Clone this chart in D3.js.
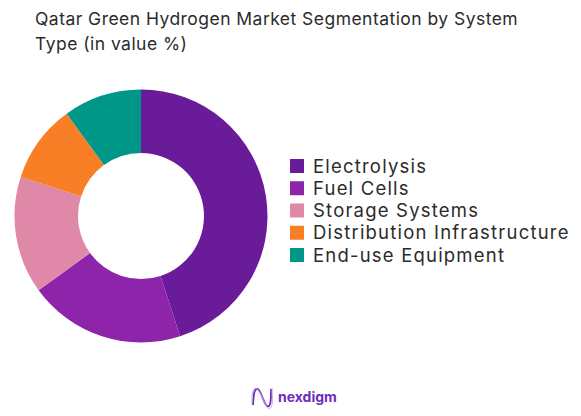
<!DOCTYPE html>
<html lang="en">
<head>
	<meta charset="utf-8">
	<title>Qatar Green Hydrogen Market Segmentation</title>
	<style>
		html, body { margin: 0; padding: 0; background: #fff; }
		svg { display: block; }
		text { font-family: Inter, "Open Sans", sans-serif; fill: #2b2b2b; }
	</style>
</head>
<body>

<script src="https://cdn.jsdelivr.net/npm/d3@7"></script>
<script>
	var categories = ["Electrolysis", "Fuel Cells", "Storage Systems", "Distribution Infrastructure", "End-use Equipment"];
	var values = [45, 20, 15, 10, 10];
	var colors = ["#6a1b9a", "#8e24aa", "#e088a8", "#f97f26", "#009688"];
	var titleLines = ["Qatar Green Hydrogen Market Segmentation by System", "Type (in value %)"];

	var w = 581;
	var h = 416;

	var svg = d3.select("body").append("svg").attr("width", w).attr("height", h);

	// title
	svg.selectAll("text.title")
		.data(titleLines)
		.enter()
		.append("text")
		.attr("class", "title")
		.attr("x", 35)
		.attr("y", function(d, i) { return 25 + i * 25; })
		.attr("font-size", 17.5)
		.attr("letter-spacing", 0.46)
		.text(function(d) { return d; });

	// donut
	var pie = d3.pie().sort(null).value(function(d) { return d; });
	var arc = d3.arc().innerRadius(63).outerRadius(126.5);

	svg.append("g")
		.attr("transform", "translate(141,216)")
		.selectAll("path")
		.data(pie(values))
		.enter()
		.append("path")
		.attr("d", arc)
		.attr("fill", function(d, i) { return colors[i]; });

	// legend
	var legendY = d3.scalePoint().domain(categories).range([166, 255]);

	var legend = svg.selectAll("g.legend")
		.data(categories)
		.enter()
		.append("g")
		.attr("class", "legend")
		.attr("transform", function(d) { return "translate(290," + legendY(d) + ")"; });

	legend.append("rect")
		.attr("x", 0)
		.attr("y", -7)
		.attr("width", 14)
		.attr("height", 14)
		.attr("fill", function(d, i) { return colors[i]; });

	legend.append("text")
		.attr("x", 23)
		.attr("y", 6.5)
		.attr("font-size", 18.5)
		.attr("letter-spacing", 1.2)
		.text(function(d) { return d; });

	// logo
	var logo = svg.append("g").attr("transform", "translate(251,387)");
	var wave = d3.line().curve(d3.curveBasis);
	logo.append("path")
		.attr("d", wave([[2, 18], [3, 2], [8, 1], [12, 12], [16, 21], [20, 18], [20, 2]]))
		.attr("fill", "none").attr("stroke", "#6a2bb8").attr("stroke-width", 1.8);
	logo.append("path")
		.attr("d", wave([[1, 16], [1, 4], [5, -1], [11, 9], [17, 24], [22, 20], [21, 1]]))
		.attr("fill", "none").attr("stroke", "#c9a2e4").attr("stroke-width", 1);
	logo.append("text")
		.attr("x", 27)
		.attr("y", 15)
		.attr("font-size", 14)
		.attr("font-weight", 700)
		.style("fill", "#6f2dbd")
		.text("nexdigm");
</script>
</body>
</html>
